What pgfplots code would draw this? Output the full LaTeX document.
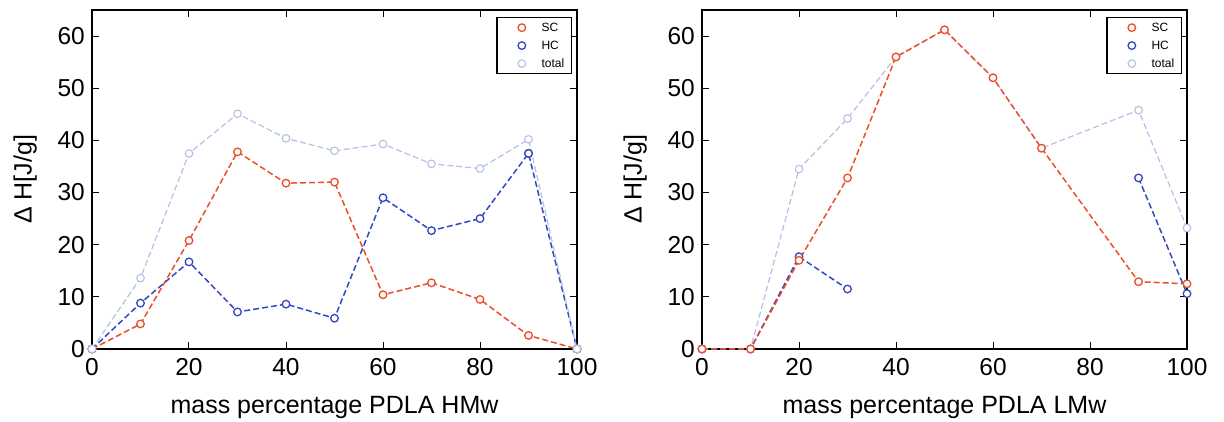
\documentclass[border=0pt]{standalone}
\usepackage{fontspec}
\setmainfont{Liberation Sans}
\usepackage{pgfplots}
\pgfplotsset{compat=1.18}
\definecolor{sccol}{RGB}{236,78,42}
\definecolor{hccol}{RGB}{52,72,190}
\definecolor{totcol}{RGB}{178,194,226}
\pgfplotsset{
 mystyle/.style={
  scale only axis, width=485pt, height=339pt,
  xmin=0, xmax=100, ymin=0, ymax=65,
  xtick={0,20,...,100}, ytick={0,10,...,60},
  tick align=inside, major tick length=7pt,
  tick style={line width=1pt, black},
  axis line style={line width=1.2pt},
  /pgf/number format/assume math mode=true,
  ticklabel style={font=\fontsize{24.5}{24.5}\selectfont, inner sep=0pt},
  xticklabel shift=9pt, yticklabel shift=7pt,
  label style={font=\fontsize{25}{25}\selectfont},
  xlabel style={at={(axis description cs:0.5,0)}, anchor=base, yshift=-65pt},
  ylabel style={at={(axis description cs:-0.138,0.5)}, anchor=center, inner sep=0pt},
  ylabel={Δ H[J/g]},
  clip=false,
  unbounded coords=jump,
  legend cell align=left,
  legend style={at={(1,1)}, xshift=-5pt, yshift=-7pt, anchor=north east,
    draw=black, line width=1.5pt, font=\fontsize{12}{13}\selectfont,
    inner xsep=5pt, inner ysep=3pt, row sep=4pt,
    nodes={inner sep=2pt}},
  legend image code/.code={\path[#1, only marks, line width=1.3pt] plot coordinates {(19pt,0pt)}; \path (0pt,0pt) (36pt,0pt);},
 },
 sc/.style={color=sccol, line width=1.5pt, dash pattern=on 6pt off 3pt, mark=*, mark size=3.8pt, mark options={solid, line width=1.3pt, fill=white}},
 hc/.style={color=hccol, line width=1.5pt, dash pattern=on 6pt off 3pt, mark=*, mark size=3.8pt, mark options={solid, line width=1.3pt, fill=white}},
 tot/.style={color=totcol, line width=1.2pt, dash pattern=on 6pt off 3pt, mark=*, mark size=3.8pt, mark options={solid, line width=1.1pt, fill=white}},
}
\begin{document}
\begin{tikzpicture}
\useasboundingbox (-92pt,-73pt) rectangle (1132pt,349pt);
\begin{axis}[mystyle, xlabel={mass percentage PDLA HMw}]
\addlegendimage{sc}\addlegendentry{SC}
\addlegendimage{hc}\addlegendentry{HC}
\addlegendimage{tot}\addlegendentry{total}
\addplot[hc, forget plot] coordinates {(0,0)(10,8.8)(20,16.7)(30,7.1)(40,8.6)(50,5.9)(60,29)(70,22.7)(80,25)(90,37.5)(100,0)};
\addplot[sc, forget plot] coordinates {(0,0)(10,4.8)(20,20.8)(30,37.8)(40,31.8)(50,32)(60,10.4)(70,12.7)(80,9.5)(90,2.6)(100,0)};
\addplot[tot, forget plot] coordinates {(0,0)(10,13.6)(20,37.5)(30,45.1)(40,40.4)(50,38)(60,39.3)(70,35.5)(80,34.6)(90,40.2)(100,0)};
\addplot[hc, only marks, forget plot] coordinates {(90,37.5)};
\end{axis}
\begin{axis}[mystyle, at={(610pt,0pt)}, xlabel={mass percentage PDLA LMw}]
\addlegendimage{sc}\addlegendentry{SC}
\addlegendimage{hc}\addlegendentry{HC}
\addlegendimage{tot}\addlegendentry{total}
\addplot[tot, forget plot] coordinates {(0,0)(10,0)(20,34.5)(30,44.2)(40,56)(50,61.2)(60,52)(70,38.5)(90,45.8)(100,23.2)};
\addplot[hc, forget plot] coordinates {(0,0)(10,0)(20,17.7)(30,11.5)(40,nan)(90,32.8)(100,10.6)};
\addplot[sc, forget plot] coordinates {(0,0)(10,0)(20,17)(30,32.8)(40,56)(50,61.2)(60,52)(70,38.5)(90,12.9)(100,12.5)};
\end{axis}
\end{tikzpicture}
\end{document}
